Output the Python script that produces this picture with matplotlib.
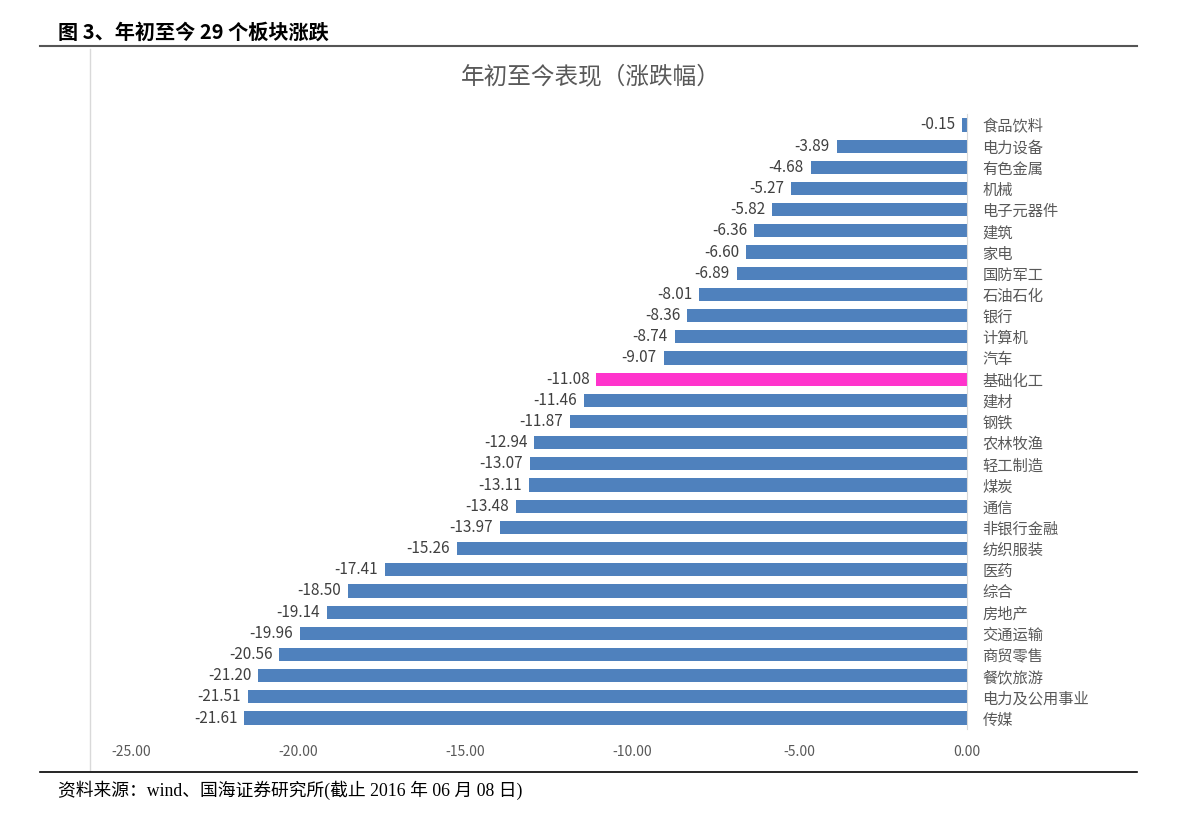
import matplotlib
matplotlib.use("Agg")
import matplotlib.pyplot as plt
from matplotlib.lines import Line2D

plt.rcParams['font.family'] = ['Noto Sans CJK SC', 'DejaVu Sans']

sectors = ["食品饮料", "电力设备", "有色金属", "机械", "电子元器件", "建筑", "家电",
           "国防军工", "石油石化", "银行", "计算机", "汽车", "基础化工", "建材", "钢铁",
           "农林牧渔", "轻工制造", "煤炭", "通信", "非银行金融", "纺织服装", "医药",
           "综合", "房地产", "交通运输", "商贸零售", "餐饮旅游", "电力及公用事业", "传媒"]
changes = [-0.15, -3.89, -4.68, -5.27, -5.82, -6.36, -6.60, -6.89, -8.01, -8.36,
           -8.74, -9.07, -11.08, -11.46, -11.87, -12.94, -13.07, -13.11, -13.48,
           -13.97, -15.26, -17.41, -18.50, -19.14, -19.96, -20.56, -21.20, -21.51,
           -21.61]
highlight = "基础化工"
xticks = [-25, -20, -15, -10, -5, 0]

W, H = 1191, 819
fig = plt.figure(figsize=(W / 100, H / 100), dpi=100)

# header and frame lines
fig.text(58 / W, 1 - 32 / H, "图 3、年初至今 29 个板块涨跌", fontsize=14.5,
         fontweight="bold", ha="left", va="center", color="black")
fig.add_artist(Line2D([40 / W, 1137 / W], [1 - 46 / H, 1 - 46 / H],
                      color="#555555", lw=1.5, transform=fig.transFigure))
fig.add_artist(Line2D([90 / W, 90 / W], [1 - 49 / H, 1 - 770 / H],
                      color="#d9d9d9", lw=1, transform=fig.transFigure))
fig.add_artist(Line2D([40 / W, 1137 / W], [1 - 772 / H, 1 - 772 / H],
                      color="black", lw=1.2, transform=fig.transFigure))
fig.text(58 / W, 1 - 790 / H, "资料来源：wind、国海证券研究所(截止 2016 年 06 月 08 日)",
         fontsize=12.8, ha="left", va="center", color="black",
         family=["Liberation Serif", "Noto Sans CJK SC"])

fig.text(591 / W, 1 - 77 / H, "年初至今表现（涨跌幅）", fontsize=17,
         ha="center", va="center", color="#595959")

ax = fig.add_axes([131 / W, 1 - 728.6 / H, (967 - 131) / W, (728.6 - 114.4) / H])
ypos = list(range(len(sectors)))
colors = ["#FF33CC" if s == highlight else "#4F81BD" for s in sectors]
ax.barh(ypos, changes, height=0.62, color=colors)

for y, v in zip(ypos, changes):
    ax.annotate(f"{v:.2f}", (v, y), xytext=(-5, 0), textcoords="offset points",
                ha="right", va="center", fontsize=11, color="#404040")

ax.set_xlim(-25, 0)
ax.set_ylim(len(sectors) - 0.5, -0.5)
ax.set_xticks(xticks)
ax.set_xticklabels([f"{t:.2f}" for t in xticks], fontsize=10, color="#595959")
ax.tick_params(axis="x", length=0, pad=12)

ax.yaxis.tick_right()
ax.set_yticks(ypos)
ax.set_yticklabels(sectors, fontsize=11, color="#595959")
ax.tick_params(axis="y", length=0, pad=11)

for side in ["top", "bottom", "left"]:
    ax.spines[side].set_visible(False)
ax.spines["right"].set_color("#d9d9d9")

fig.savefig("out.png", dpi=100)
